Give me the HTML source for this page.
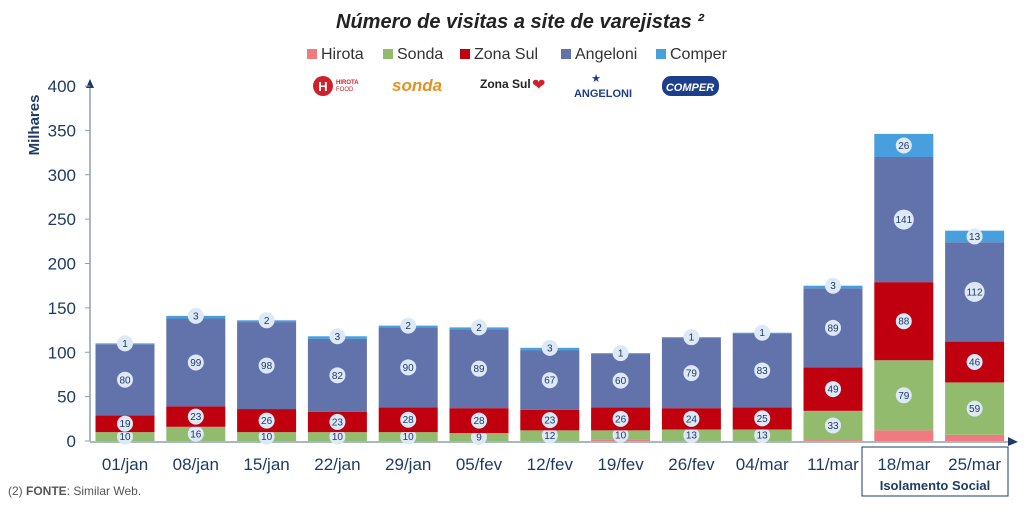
<!DOCTYPE html>
<html><head><meta charset="utf-8"><style>
body{margin:0;background:#fff;font-family:"Liberation Sans",sans-serif}
svg text{font-family:"Liberation Sans",sans-serif}
</style></head><body>
<svg id="c" width="1024" height="505" xmlns="http://www.w3.org/2000/svg">
<text x="520" y="28" text-anchor="middle" font-size="20" font-weight="bold" font-style="italic" fill="#222">Número de visitas a site de varejistas ²</text>
<g font-size="16" fill="#333">
<rect x="307" y="49" width="10" height="10" fill="#f07a80"/><text x="321" y="59">Hirota</text>
<rect x="383" y="49" width="10" height="10" fill="#92bb6e"/><text x="397" y="59">Sonda</text>
<rect x="460" y="49" width="10" height="10" fill="#c0000f"/><text x="474" y="59">Zona Sul</text>
<rect x="561" y="49" width="10" height="10" fill="#6272ab"/><text x="575" y="59">Angeloni</text>
<rect x="656" y="49" width="10" height="10" fill="#47a0dd"/><text x="670" y="59">Comper</text>
</g>
<g>
<circle cx="323" cy="86" r="10" fill="#d0202a"/><text x="323" y="91" text-anchor="middle" font-size="13" font-weight="bold" fill="#fff">H</text>
<text x="336" y="84" font-size="6" fill="#d0202a" font-weight="bold">HIROTA</text><text x="336" y="91" font-size="6" fill="#d0202a">FOOD</text>
<text x="392" y="91" font-size="17" font-weight="bold" font-style="italic" fill="#e39122">sonda</text>
<text x="480" y="88" font-size="12" font-weight="bold" fill="#222">Zona Sul</text><text x="532" y="90" font-size="16" fill="#d0202a">❤</text>
<text x="596" y="82" font-size="11" fill="#1d3f8b" text-anchor="middle">★</text><text x="603" y="97" font-size="11" font-weight="bold" fill="#1d3f8b" text-anchor="middle">ANGELONI</text>
<rect x="662" y="76" width="57" height="20" rx="9" fill="#1d3f8b"/><text x="690" y="91" text-anchor="middle" font-size="11" font-weight="bold" font-style="italic" fill="#fff">COMPER</text>
</g>
<text transform="translate(39,125) rotate(-90)" text-anchor="middle" font-size="15" font-weight="bold" fill="#1f3b64">Milhares</text>
<g id="axes"></g><g id="bars"></g>
<rect x="862" y="447" width="146" height="49" fill="none" stroke="#1f3b64" stroke-width="1"/>
<text x="935" y="490" text-anchor="middle" font-size="13" font-weight="bold" fill="#1f3b64">Isolamento Social</text>
<text x="8" y="495" font-size="12" fill="#555">(2) <tspan font-weight="bold">FONTE</tspan>: Similar Web.</text>
</svg>
<script>
const categories=["01/jan","08/jan","15/jan","22/jan","29/jan","05/fev","12/fev","19/fev","26/fev","04/mar","11/mar","18/mar","25/mar"];
const hirota=[0,0,0,0,0,0,0,2,0,0,1,12,7];
const sonda=[10,16,10,10,10,9,12,10,13,13,33,79,59];
const zonaSul=[19,23,26,23,28,28,23,26,24,25,49,88,46];
const angeloni=[80,99,98,82,90,89,67,60,79,83,89,141,112];
const comper=[1,3,2,3,2,2,3,1,1,1,3,26,13];
const yTicks=[0,50,100,150,200,250,300,350,400];
const NS="http://www.w3.org/2000/svg";
const y0=441,yTop=86,yMax=400,x0=125,step=70.8,bw=59;
const Y=v=>y0-(v/yMax)*(y0-yTop);
const X=i=>x0+i*step;
function el(t,a,p){const e=document.createElementNS(NS,t);for(const k in a)e.setAttribute(k,a[k]);p.appendChild(e);return e;}
const ax=document.getElementById('axes'),bg=document.getElementById('bars');
const yl=el('line',{x1:90,y1:y0,x2:90,y2:80,stroke:'#8aa0b0','stroke-width':1.5},ax);


el('path',{d:'M86,88 L90,79 L94,88Z',fill:'#1f3b64'},ax);
const xl=el('line',{x1:90,y1:y0+1,x2:1012,y2:y0+1,stroke:'#8aa0b0','stroke-width':1.5},ax);


el('path',{d:'M1008,437 L1018,442 L1008,446Z',fill:'#1f3b64'},ax);
yTicks.forEach(v=>{
 el('line',{x1:85,y1:Y(v),x2:90,y2:Y(v),stroke:'#8aa0b0'},ax);
 const t=el('text',{x:76,y:Y(v)+6,'text-anchor':'end','font-size':17,fill:'#1f3b64'},ax);t.textContent=v;
 
 
});
const series=[[hirota,'#f07a80','hirota',false],[sonda,'#92bb6e','sonda',true],[zonaSul,'#c0000f','zona-sul',true],[angeloni,'#6272ab','angeloni',true],[comper,'#47a0dd','comper',true]];
categories.forEach((c,i)=>{
 let base=0;const cx=X(i);
 series.forEach(([arr,col,nm,lab])=>{
  const v=arr[i];if(v<=0)return;
  const r=el('rect',{x:cx-bw/2,y:Y(base+v),width:bw,height:Y(base)-Y(base+v),fill:col},bg);
  
  
  if(lab){
   const my=nm==='comper'&&v<5?Y(base+v):(Y(base)+Y(base+v))/2;
   const rad=v>=100?10:8;
   el('circle',{cx:cx,cy:my,r:rad,fill:'#dde9f7'},bg);
   const t=el('text',{x:cx,y:my+3.5,'text-anchor':'middle','font-size':10,fill:'#1f3b64'},bg);t.textContent=v;
   
   
  }
  base+=v;
 });
 const t=el('text',{x:cx,y:470,'text-anchor':'middle','font-size':17,fill:'#1f3b64'},ax);t.textContent=c;
 
 
});
</script>
</body></html>
